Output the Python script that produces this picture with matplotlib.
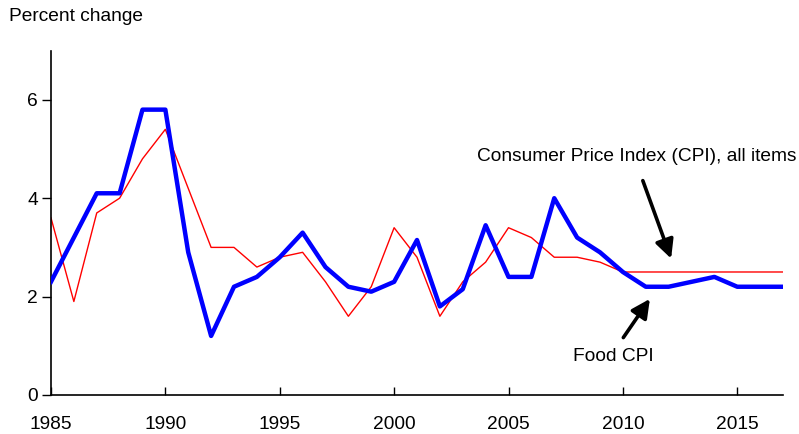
import matplotlib.pyplot as plt

plt.rcParams['font.family'] = ['Liberation Sans', 'DejaVu Sans']

years = list(range(1985, 2018))
food_cpi = [2.3, 3.2, 4.1, 4.1, 5.8, 5.8, 2.9, 1.2, 2.2, 2.4,
            2.8, 3.3, 2.6, 2.2, 2.1, 2.3, 3.15, 1.8, 2.15, 3.45,
            2.4, 2.4, 4.0, 3.2, 2.9, 2.5, 2.2, 2.2, 2.3, 2.4,
            2.2, 2.2, 2.2]
all_cpi = [3.6, 1.9, 3.7, 4.0, 4.8, 5.4, 4.2, 3.0, 3.0, 2.6,
           2.8, 2.9, 2.3, 1.6, 2.2, 3.4, 2.8, 1.6, 2.3, 2.7,
           3.4, 3.2, 2.8, 2.8, 2.7, 2.5, 2.5, 2.5, 2.5, 2.5,
           2.5, 2.5, 2.5]
xticks = [1985, 1990, 1995, 2000, 2005, 2010, 2015]
yticks = [0, 2, 4, 6]

fs = 13.8
fig = plt.figure(figsize=(7.99, 4.34), dpi=100)
ax = fig.add_axes([0.0638, 0.0899, 0.9162, 0.7935])

ax.plot(years, all_cpi, color='#ff0000', lw=1.0, zorder=2)
ax.plot(years, food_cpi, color='#0000ff', lw=3.2, zorder=3)

ax.set_xlim(1985, 2017)
ax.set_ylim(0, 7)
ax.set_xticks(xticks)
ax.set_yticks(yticks)
ax.spines['top'].set_visible(False)
ax.spines['right'].set_visible(False)
ax.spines['left'].set_linewidth(1.2)
ax.spines['bottom'].set_linewidth(1.2)
ax.tick_params(axis='x', direction='in', length=6, width=1, pad=15, labelsize=fs)
ax.tick_params(axis='y', direction='out', length=6.5, width=1, pad=3, labelsize=fs)

fig.text(0.011, 0.963, 'Percent change', fontsize=fs, va='center', ha='left')

ax.annotate('', xy=(2012.15, 2.72), xytext=(2010.83, 4.41),
            arrowprops=dict(arrowstyle='-|>', lw=2.6, color='black', mutation_scale=28))
ax.text(2010.6, 4.84, 'Consumer Price Index (CPI), all items', fontsize=fs,
        ha='center', va='center', clip_on=False)

ax.annotate('', xy=(2011.25, 2.0), xytext=(2009.95, 1.12),
            arrowprops=dict(arrowstyle='-|>', lw=2.6, color='black', mutation_scale=28))
ax.text(2009.6, 0.78, 'Food CPI', fontsize=fs, ha='center', va='center')

fig.savefig('out.png', dpi=100)
